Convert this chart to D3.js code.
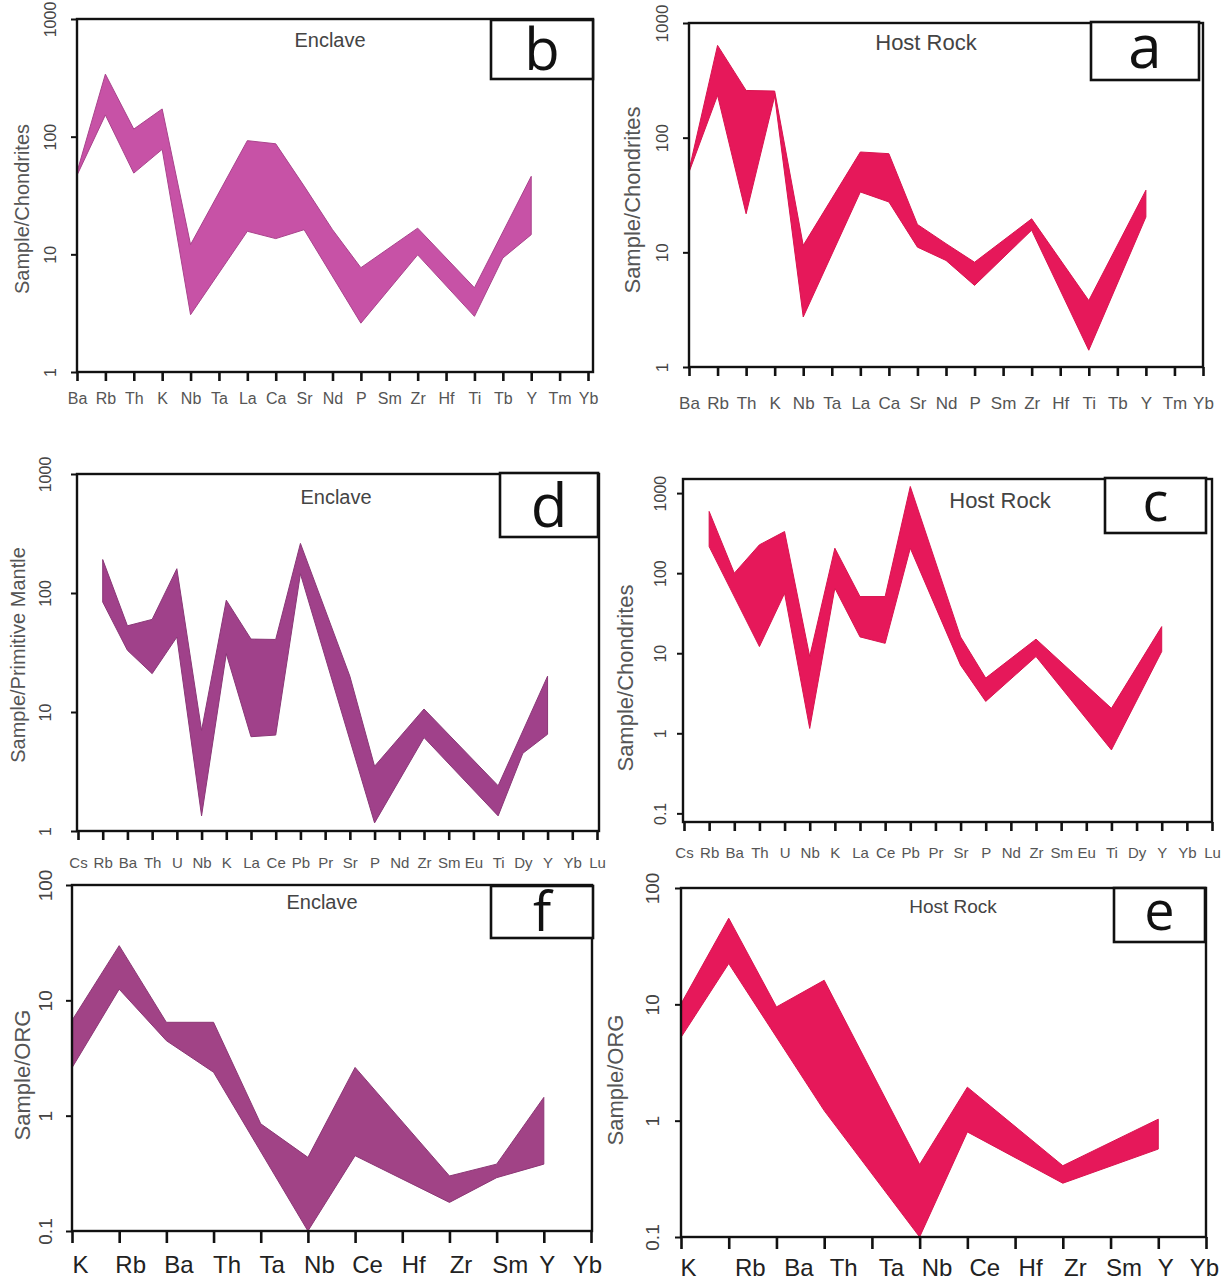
<!DOCTYPE html>
<html><head><meta charset="utf-8">
<script src="https://cdn.jsdelivr.net/npm/d3@7"></script>
<style>body{margin:0;background:#fff}svg{display:block}</style>
</head><body>
<svg id="chart" width="1231" height="1282"></svg>
<script>
// ---------- DATA ----------
const catsChondrite = ["Ba","Rb","Th","K","Nb","Ta","La","Ca","Sr","Nd","P","Sm","Zr","Hf","Ti","Tb","Y","Tm","Yb"];
const catsMantle = ["Cs","Rb","Ba","Th","U","Nb","K","La","Ce","Pb","Pr","Sr","P","Nd","Zr","Sm","Eu","Ti","Dy","Y","Yb","Lu"];
const catsORG = ["K","Rb","Ba","Th","Ta","Nb","Ce","Hf","Zr","Sm","Y","Yb"];

const ticks1to1000 = [1, 10, 100, 1000];
const ticksC = [0.1, 1, 10, 100, 1000];
const ticksORG = [0.1, 1, 10, 100];

// b: Enclave, chondrite-normalised (upper / lower envelope)
const upperB = [50, 340, 116, 172, 12.1, null, 92.5, 87, 38, 16.2, 7.7, null, 16.7, null, 5.2, null, 46, null, null];
const lowerB = [47, 153, 49, 78, 3.07, null, 15.7, 13.6, 16.2, null, 2.6, null, 9.9, null, 2.97, 9.3, 14.7, null, null];
// a: Host Rock, chondrite-normalised
const upperA = [52, 638, 258, 255, 11.5, null, 75, 72.5, 17.5, 11.9, 8.2, null, 19.6, null, 3.8, null, 34.8, null, null];
const lowerA = [50, 234, 21.7, 230, 2.73, null, 33.6, 27.5, 11.1, 8.5, 5.15, null, 15.6, null, 1.4, null, 20.3, null, null];
// d: Enclave, primitive-mantle-normalised
const upperD = [null, 191, 53, 60, 160, 7, 87, 41, 40.7, 261, null, 20, 3.5, null, 10.6, null, null, 2.4, null, 20, null, null];
const lowerD = [null, 84, 33, 21, 42.6, 1.34, 30.9, 6.2, 6.4, 145, null, null, 1.17, null, 6.1, null, null, 1.34, 4.5, 6.5, null, null];
// c: Host Rock, spider diagram
const upperC = [null, 590, 100, 226, 331, 9.1, 205, 51, 51, 1210, null, 16, 4.9, null, 15, null, null, 2.05, null, 21.5, null, null];
const lowerC = [null, 215, null, 12.1, 56, 1.15, 65, 16, 13.3, 205, null, 7.1, 2.5, null, 9.1, null, null, 0.62, null, 10.5, null, null];
// f: Enclave, ORG-normalised
const upperF = [6.7, 29.8, 6.45, 6.45, 0.85, 0.435, 2.62, null, 0.30, 0.38, 1.44, null];
const lowerF = [2.6, 12.5, 4.47, 2.38, null, 0.1, 0.45, null, 0.177, 0.29, 0.38, null];
// e: Host Rock, ORG-normalised
const upperE = [10.1, 55, 9.5, 16.1, null, 0.42, 1.94, null, 0.41, null, 1.03, null];
const lowerE = [5.2, 22.4, null, 1.22, null, 0.1, 0.8, null, 0.29, null, 0.57, null];

// ---------- PANELS ----------
const colEnclaveB = "#c752a6", colEnclaveD = "#a0418a", colEnclaveF = "#a14386", colHost = "#e6185a";
const panels = [
  {letter:"b", title:"Enclave", yTitle:"Sample/Chondrites", cats:catsChondrite, upper:upperB, lower:lowerB, ticks:ticks1to1000, dom:[1,1000], color:colEnclaveB, edge:"#a9438c",
   L:77, R:593, T:19, B:372, tx0:77, tx1:588, box:[491,20,102,59], lfs:58, tpos:[330,40], tfs:20, ypos:[22,209], yfs:20, ytOff:27, ytfs:16, xly:398, xlfs:16, xlcol:"#555", xlOff:null},
  {letter:"a", title:"Host Rock", yTitle:"Sample/Chondrites", cats:catsChondrite, upper:upperA, lower:lowerA, ticks:ticks1to1000, dom:[1,1000], color:colHost, edge:"#d8144f",
   L:689, R:1203, T:23, B:367, tx0:689, tx1:1203, box:[1091,22,108,58], lfs:60, tpos:[926,42], tfs:22, ypos:[632,200], yfs:22, ytOff:27, ytfs:17, xly:403, xlfs:17, xlcol:"#555", xlOff:null},
  {letter:"d", title:"Enclave", yTitle:"Sample/Primitive Mantle", cats:catsMantle, upper:upperD, lower:lowerD, ticks:ticks1to1000, dom:[1,1000], color:colEnclaveD, edge:"#8a3777",
   L:77, R:599, T:474, B:831, tx0:78, tx1:597, box:[500,473,98,64], lfs:60, tpos:[336,497], tfs:20, ypos:[18,655], yfs:20, ytOff:32, ytfs:16, xly:863, xlfs:15, xlcol:"#555", xlOff:null},
  {letter:"c", title:"Host Rock", yTitle:"Sample/Chondrites", cats:catsMantle, upper:upperC, lower:lowerC, ticks:ticksC, dom:[0.078,1500], color:colHost, edge:"#d8144f",
   L:683, R:1212, T:479, B:822, tx0:684, tx1:1212, box:[1105,478,101,55], lfs:54, tpos:[1000,500], tfs:22, ypos:[625,678], yfs:22, ytOff:23, ytfs:16, xly:853, xlfs:15, xlcol:"#555", xlOff:null},
  {letter:"f", title:"Enclave", yTitle:"Sample/ORG", cats:catsORG, upper:upperF, lower:lowerF, ticks:ticksORG, dom:[0.1,100], color:colEnclaveF, edge:"#8c3775",
   L:72, R:592, T:885, B:1231, tx0:72, tx1:591, box:[491,886,102,52], lfs:54, tpos:[322,902], tfs:20, ypos:[22,1075], yfs:22, ytOff:27, ytfs:19, xly:1265, xlfs:24, xlcol:"#222",
   xlOff:[8,11,12,13,11,11,12,11,11,13,3,-4]},
  {letter:"e", title:"Host Rock", yTitle:"Sample/ORG", cats:catsORG, upper:upperE, lower:lowerE, ticks:ticksORG, dom:[0.1,100], color:colHost, edge:"#d8144f",
   L:681, R:1206, T:888, B:1237, tx0:681, tx1:1206, box:[1114,888,91,54], lfs:54, tpos:[953,906], tfs:19, ypos:[615,1080], yfs:22, ytOff:29, ytfs:19, xly:1268, xlfs:24, xlcol:"#222",
   xlOff:[7,21,22,19,19,17,17,15,12,13,7,-2]}
];

const svg = d3.select("#chart");
const FONT = "'Liberation Sans', Arial, sans-serif";

panels.forEach(p => {
  const g = svg.append("g");
  const x = d3.scalePoint().domain(p.cats).range([p.tx0, p.tx1]);
  const y = d3.scaleLog().domain(p.dom).range([p.B, p.T]);

  // band polygon
  const up = p.cats.map((c,i)=>[x(c), p.upper[i]]).filter(d=>d[1]!=null);
  const lo = p.cats.map((c,i)=>[x(c), p.lower[i]]).filter(d=>d[1]!=null).reverse();
  const line = d3.line().x(d=>d[0]).y(d=>y(d[1]));
  g.append("path").attr("d", line(up.concat(lo)) + "Z")
    .attr("fill", p.color).attr("stroke", p.edge).attr("stroke-width", 1).attr("stroke-linejoin","round");

  // frame
  g.append("rect").attr("x", p.L).attr("y", p.T).attr("width", p.R-p.L).attr("height", p.B-p.T)
    .attr("fill","none").attr("stroke","#111").attr("stroke-width",2.4);

  // x axis
  const xa = g.append("g").attr("transform",`translate(0,${p.B})`)
    .call(d3.axisBottom(x).tickSize(p.xlfs>20?12:9).tickPadding(4));
  xa.select(".domain").remove();
  xa.selectAll("line").attr("stroke","#111").attr("stroke-width", 2.6);
  xa.selectAll("text").attr("y", p.xly - p.B).attr("dy","0.35em")
    .attr("x", (d,i)=> p.xlOff ? p.xlOff[i] : 0)
    .attr("font-family", FONT).attr("font-size", p.xlfs).attr("fill", p.xlcol);

  // y axis
  const ya = g.append("g").attr("transform",`translate(${p.L},0)`)
    .call(d3.axisLeft(y).tickValues(p.ticks).tickSize(6).tickFormat(d=>String(d)));
  ya.select(".domain").remove();
  ya.selectAll("line").attr("stroke","#111").attr("stroke-width", 2);
  ya.selectAll("text").attr("transform","rotate(-90)").attr("x",0).attr("y",-p.ytOff).attr("dy","0.36em")
    .attr("text-anchor","middle").attr("font-family", FONT).attr("font-size", p.ytfs).attr("fill","#444");

  // y title
  g.append("text").attr("transform",`translate(${p.ypos[0]},${p.ypos[1]}) rotate(-90)`)
    .attr("text-anchor","middle").attr("dy","0.36em").attr("font-family",FONT)
    .attr("font-size",p.yfs).attr("fill","#555").text(p.yTitle);

  // title
  g.append("text").attr("x",p.tpos[0]).attr("y",p.tpos[1]).attr("dy","0.36em").attr("text-anchor","middle")
    .attr("font-family",FONT).attr("font-size",p.tfs).attr("fill","#444").text(p.title);

  // letter box
  const [bx,by,bw,bh] = p.box;
  g.append("rect").attr("x",bx).attr("y",by).attr("width",bw).attr("height",bh)
    .attr("fill","#fff").attr("stroke","#111").attr("stroke-width",2.6);
  g.append("text").attr("x",bx+bw/2).attr("y",by+bh/2).attr("dy", p.letter==="b"||p.letter==="d"||p.letter==="f" ? "0.36em" : "0.28em")
    .attr("text-anchor","middle").attr("font-family","'Open Sans', 'DejaVu Sans', sans-serif")
    .attr("font-size",p.lfs).attr("fill","#111").text(p.letter);
});
</script>
</body></html>
